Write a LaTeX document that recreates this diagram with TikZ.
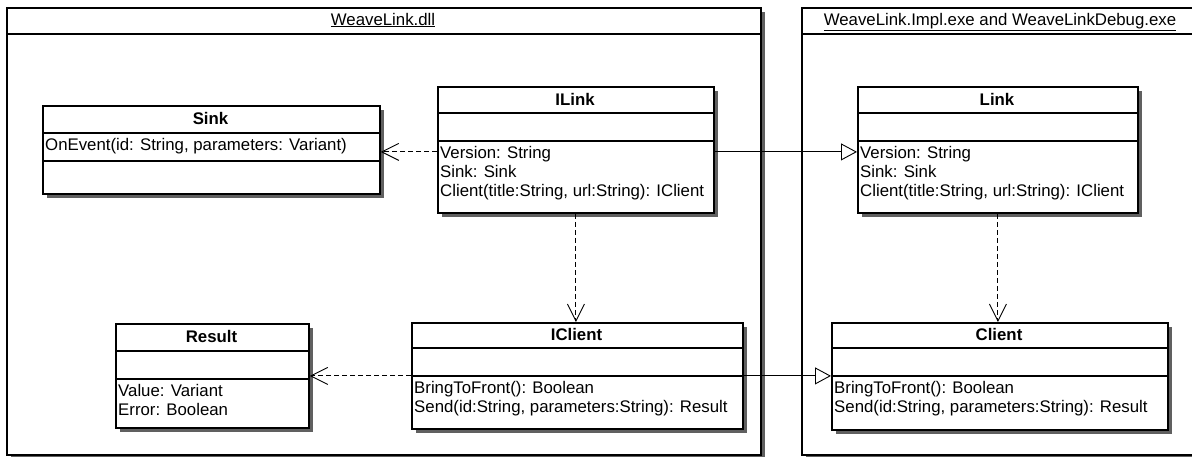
\documentclass[tikz,border=0pt]{standalone}
\usepackage{fontspec}
\setmainfont{Liberation Sans}
\usetikzlibrary{arrows.meta,shadows}
\definecolor{shadowgray}{RGB}{96,96,96}

\tikzset{
  x=1pt, y=-1pt,
  every node/.style={font=\fontsize{16.8}{19}\selectfont},
  boxshadow/.style={drop shadow={shadow xshift=4pt, shadow yshift=-4pt, fill=shadowgray, opacity=1}},
  umlbox/.style={draw, line width=1.8pt, fill=white, inner sep=0pt, anchor=north west, boxshadow},
  pkgbox/.style={draw, line width=1.8pt, fill=white, inner sep=0pt, anchor=north west, boxshadow},
  split/.style={line width=1.8pt},
  classname/.style={font=\fontsize{16.8}{19}\selectfont\bfseries, inner sep=0pt, anchor=base},
  member/.style={inner sep=0pt, anchor=base west},
  pkgname/.style={inner sep=0pt, anchor=base},
  dep/.style={line width=0.9pt, dash pattern=on 5pt off 3pt, -{Straight Barb[length=17pt,width=17pt,line width=0.9pt]}},
  realize/.style={line width=0.9pt, -{Triangle[open,length=16pt,width=17pt,fill=white,line width=0.9pt]}},
}

\begin{document}
\begin{tikzpicture}
\useasboundingbox (0,0) rectangle (1192,456);
\clip (0,0) rectangle (1192,456);
\fill[white] (0,0) rectangle (1192,456);

% packages
\node[pkgbox, minimum width=754pt, minimum height=447pt] (dll) at (6,7) {};
\draw[split] (6,34) -- (760,34);
\node[pkgname] (dllname) at (383,25) {\underline{WeaveLink.dll}};

\node[pkgbox, minimum width=400pt, minimum height=447pt] (exe) at (801,7) {};
\draw[split] (801,34) -- (1201,34);
\node[pkgname] (exename) at (1000,25) {\underline{WeaveLink.Impl.exe and WeaveLinkDebug.exe}};

% class Sink
\node[umlbox, minimum width=337pt, minimum height=88pt] (sink) at (42,105) {};
\draw[split] (42,133) -- (379,133);
\draw[split] (42,161) -- (379,161);
\node[classname] (sinkname) at (210.5,124.5) {Sink};
\node[member] (sinkop) at (45,150) {OnEvent(id: String, parameters: Variant)};

% interface ILink
\node[umlbox, minimum width=276pt, minimum height=126pt] (ilink) at (437,86) {};
\draw[split] (437,113) -- (713,113);
\draw[split] (437,141) -- (713,141);
\node[classname] (ilinkname) at (575,105) {ILink};
\node[member] (ilinka) at (440,158) {Version: String};
\node[member] (ilinkb) at (440,177) {Sink: Sink};
\node[member] (ilinkc) at (440,196) {Client(title:String, url:String): IClient};

% class Link
\node[umlbox, minimum width=280pt, minimum height=126pt] (link) at (857,86) {};
\draw[split] (857,113) -- (1137,113);
\draw[split] (857,141) -- (1137,141);
\node[classname] (linkname) at (997,105) {Link};
\node[member] (linka) at (860,158) {Version: String};
\node[member] (linkb) at (860,177) {Sink: Sink};
\node[member] (linkc) at (860,196) {Client(title:String, url:String): IClient};

% class Result
\node[umlbox, minimum width=193pt, minimum height=104pt] (result) at (115,323) {};
\draw[split] (115,351) -- (308,351);
\draw[split] (115,379) -- (308,379);
\node[classname] (resultname) at (211.5,342) {Result};
\node[member] (resulta) at (118,396) {Value: Variant};
\node[member] (resultb) at (118,415) {Error: Boolean};

% interface IClient
\node[umlbox, minimum width=331pt, minimum height=106pt] (iclient) at (411,322) {};
\draw[split] (411,348) -- (742,348);
\draw[split] (411,376) -- (742,376);
\node[classname] (iclientname) at (576.5,340.5) {IClient};
\node[member] (iclienta) at (414,393) {BringToFront(): Boolean};
\node[member] (iclientb) at (414,412) {Send(id:String, parameters:String): Result};

% class Client
\node[umlbox, minimum width=336pt, minimum height=107pt] (client) at (831,322) {};
\draw[split] (831,348) -- (1167,348);
\draw[split] (831,376) -- (1167,376);
\node[classname] (clientname) at (999,340.5) {Client};
\node[member] (clienta) at (834,393) {BringToFront(): Boolean};
\node[member] (clientb) at (834,412) {Send(id:String, parameters:String): Result};

% relations
\draw[dep] ([yshift=-2pt]ilink.west) -- ([yshift=-2pt]sink.east);
\draw[realize] ([yshift=-2pt]ilink.east) -- ([yshift=-2pt]link.west);
\draw[dep] (ilink.south) -- (ilink.south |- iclient.north);
\draw[dep] (link.south) -- (link.south |- client.north);
\draw[dep] (iclient.west) -- (iclient.west -| result.east);
\draw[realize] (iclient.east) -- (iclient.east -| client.west);
\end{tikzpicture}
\end{document}
